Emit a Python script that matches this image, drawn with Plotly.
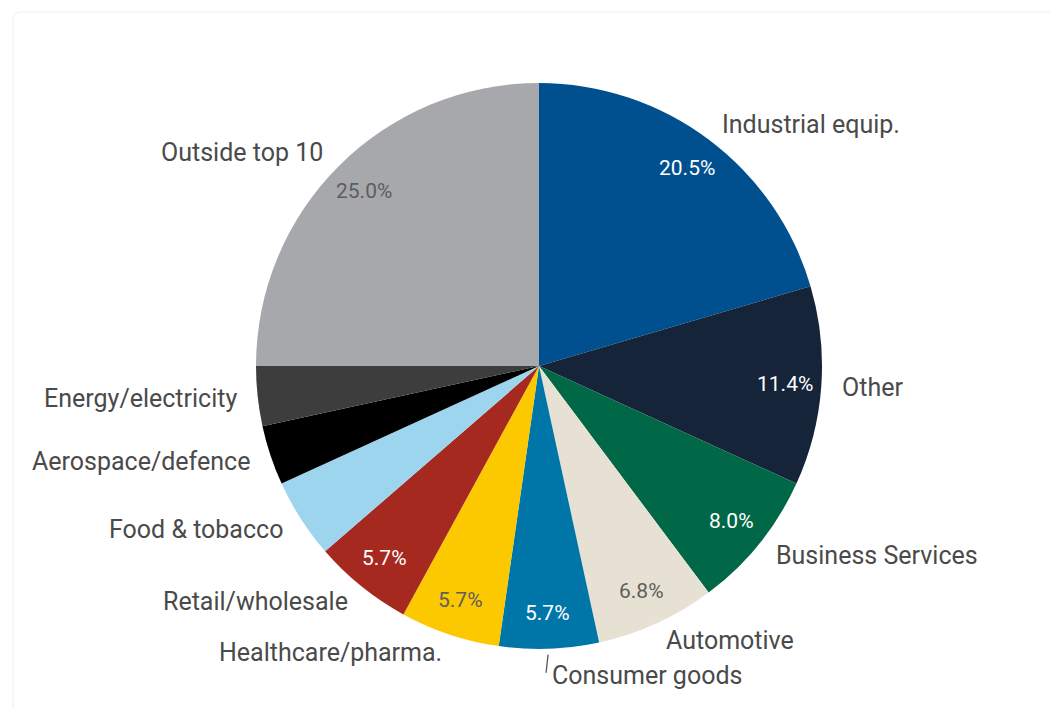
import math
import plotly.graph_objects as go

labels = ["Industrial equip.", "Other", "Business Services", "Automotive",
          "Consumer goods", "Healthcare/pharma.", "Retail/wholesale",
          "Food & tobacco", "Aerospace/defence", "Energy/electricity",
          "Outside top 10"]
values = [18, 10, 7, 6, 5, 5, 5, 4, 3, 3, 22]
colors = ["#00508f", "#16243a", "#006847", "#e6e1d2", "#0076a8", "#fcc800",
          "#a6291f", "#9dd4ee", "#000000", "#3d3d3d", "#a7a8ac"]
pct_colors = ["#ffffff", "#ffffff", "#ffffff", "#5e5e5e", "#ffffff", "#5e5e5e",
              "#ffffff", None, None, None, "#5e5e5e"]

W, H = 1058, 713
OFF = 8  # page body margin
CX, CY, R = 539 - OFF, 366 - OFF, 283  # pie centre / radius in figure pixels
LABEL_R = 302
PCT_R = 247

dom_x = [(CX - R) / W, (CX + R) / W]
dom_y = [(H - CY - R) / H, (H - CY + R) / H]

fig = go.Figure(go.Pie(
    labels=labels, values=values, sort=False, direction="clockwise",
    rotation=0, marker=dict(colors=colors, line=dict(width=0)),
    textinfo="none", hoverinfo="label+percent", showlegend=False,
    domain=dict(x=dom_x, y=dom_y),
))

total = sum(values)
ann = []
shapes = []
cum = 0
for i, (lab, v) in enumerate(zip(labels, values)):
    mid = (cum + v / 2) / total * 2 * math.pi
    cum += v
    s, c = math.sin(mid), math.cos(mid)
    lr = LABEL_R
    if lab == "Consumer goods":
        lr = 310
    px = CX + lr * s
    py = CY - lr * c
    xanchor = "left" if s > -0.05 else "right"
    if lab == "Consumer goods":
        shapes.append(dict(type="line", xref="paper", yref="paper",
                           x0=(px - 2) / W, y0=(H - (py - 21)) / H,
                           x1=(px - 4) / W, y1=(H - (py - 3)) / H,
                           line=dict(color="#555555", width=1.3)))
    ann.append(dict(x=px / W, y=(H - py) / H, xref="paper", yref="paper",
                    text=lab, showarrow=False, xanchor=xanchor, yanchor="middle",
                    font=dict(family="Roboto", size=25, color="#4a4a4a")))
    if pct_colors[i] is not None:
        qx = CX + PCT_R * s
        qy = CY - PCT_R * c
        ann.append(dict(x=qx / W, y=(H - qy) / H, xref="paper", yref="paper",
                        text=f"{v / total * 100:.1f}%", showarrow=False,
                        xanchor="center", yanchor="middle",
                        font=dict(family="Roboto", size=21, color=pct_colors[i])))

# faint card border
bx, by = 13 - OFF, 12 - OFF
shapes.append(dict(type="path", xref="paper", yref="paper",
                   path=f"M {bx/W},{(H-700)/H} L {bx/W},{(H-by-8)/H} Q {bx/W},{(H-by)/H} {(bx+8)/W},{(H-by)/H} L {1.0},{(H-by)/H}",
                   line=dict(color="#f0f0f0", width=1.2)))

fig.update_layout(
    width=W, height=H, margin=dict(l=0, r=0, t=0, b=0),
    paper_bgcolor="#ffffff", plot_bgcolor="#ffffff",
    annotations=ann, shapes=shapes,
)
fig.write_html("out.html")
